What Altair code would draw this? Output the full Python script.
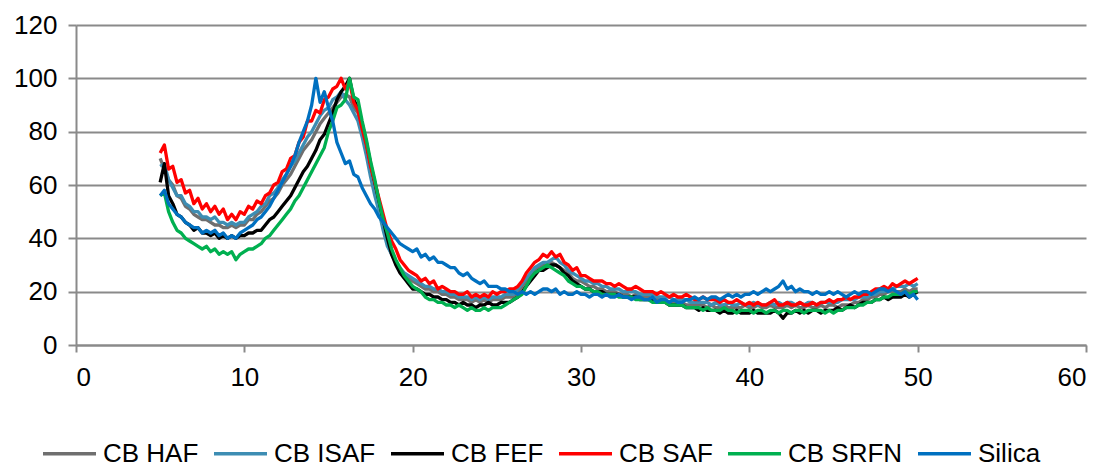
import altair as alt
import pandas as pd

# x grid of the readings (2-theta, step 0.25 from 5 to 50)
X = [5 + 0.25 * i for i in range(181)]

NAMES = ["CB HAF", "CB ISAF", "CB FEF", "CB SAF", "CB SRFN", "Silica"]
COLORS = ["#6f6f6f", "#3d8db3", "#000000", "#ff0000", "#00b050", "#0070c0"]

HAF = [
    70, 66, 62, 60, 56, 55, 52, 51, 49, 48, 47, 47, 46, 45, 45, 44,
    44, 45, 44, 45, 45, 47, 47, 49, 50, 52, 54, 55, 57, 60, 62, 64,
    67, 70, 73, 75, 77, 80, 83, 85, 87, 89, 91, 93, 94, 93, 89, 87,
    80, 73, 65, 58, 51, 44, 38, 34, 31, 28, 26, 25, 24, 23, 22, 21,
    21, 20, 20, 19, 19, 18, 18, 17, 17, 17, 16, 17, 16, 17, 16, 17,
    17, 17, 18, 18, 18, 20, 22, 24, 26, 28, 29, 30, 30, 31, 30, 29,
    28, 27, 25, 24, 24, 23, 22, 22, 21, 21, 20, 20, 20, 19, 19, 19,
    18, 19, 18, 18, 18, 17, 17, 17, 17, 16, 16, 16, 16, 15, 15, 15,
    15, 15, 14, 15, 14, 14, 15, 14, 14, 14, 14, 15, 14, 14, 15, 14,
    14, 15, 14, 14, 14, 15, 14, 15, 14, 14, 15, 14, 14, 15, 14, 15,
    15, 14, 15, 15, 15, 16, 16, 17, 17, 18, 18, 19, 19, 20, 20, 20,
    20, 21, 20, 21, 21,
]

ISAF = [
    67, 68, 62, 59, 56, 56, 53, 52, 50, 50, 48, 48, 47, 48, 46, 46,
    45, 46, 45, 46, 46, 48, 49, 50, 52, 53, 56, 57, 59, 62, 64, 67,
    69, 72, 75, 78, 80, 83, 86, 88, 89, 92, 93, 95, 92, 90, 87, 84,
    78, 71, 63, 56, 50, 43, 37, 34, 31, 29, 27, 26, 25, 24, 23, 22,
    22, 21, 21, 20, 20, 19, 19, 18, 18, 18, 17, 18, 17, 18, 17, 18,
    18, 18, 19, 19, 19, 21, 23, 25, 27, 29, 30, 31, 31, 32, 33, 31,
    30, 28, 27, 26, 25, 24, 24, 23, 23, 22, 22, 21, 21, 21, 20, 20,
    20, 20, 19, 19, 19, 19, 18, 18, 18, 18, 17, 17, 17, 17, 16, 16,
    16, 16, 16, 15, 16, 15, 15, 16, 15, 15, 16, 15, 15, 16, 15, 15,
    15, 16, 15, 16, 15, 16, 16, 15, 16, 15, 16, 16, 15, 16, 16, 16,
    16, 16, 17, 17, 17, 17, 18, 18, 18, 19, 19, 20, 20, 21, 21, 22,
    22, 22, 23, 22, 23,
]

FEF = [
    61, 68, 56, 53, 49, 48, 46, 45, 43, 44, 42, 42, 41, 42, 40, 41,
    40, 41, 40, 41, 41, 42, 42, 43, 43, 45, 47, 48, 50, 52, 54, 56,
    59, 62, 65, 67, 70, 73, 77, 79, 83, 87, 92, 95, 97, 100, 92, 89,
    83, 76, 68, 61, 54, 47, 40, 34, 30, 27, 25, 23, 21, 21, 20, 19,
    19, 18, 18, 17, 17, 16, 16, 15, 16, 15, 15, 14, 15, 15, 16, 15,
    15, 16, 16, 16, 17, 18, 20, 22, 24, 26, 28, 28, 29, 30, 30, 29,
    27, 26, 24, 23, 22, 21, 21, 20, 20, 20, 19, 19, 19, 19, 18, 18,
    18, 18, 17, 17, 17, 17, 16, 16, 16, 15, 15, 15, 15, 14, 14, 14,
    13, 14, 13, 13, 13, 12, 13, 12, 12, 13, 12, 12, 12, 13, 12, 12,
    12, 12, 13, 12, 10, 12, 12, 13, 12, 13, 12, 13, 13, 12, 13, 13,
    13, 14, 13, 14, 15, 14, 15, 16, 16, 16, 17, 17, 18, 17, 18, 18,
    18, 19, 18, 19, 20,
]

SAF = [
    72, 75, 66, 67, 61, 62, 57, 58, 53, 55, 51, 53, 50, 52, 49, 51,
    47, 49, 47, 50, 49, 52, 51, 54, 53, 56, 57, 60, 61, 65, 66, 70,
    71, 76, 78, 84, 84, 88, 87, 92, 93, 96, 97, 100, 96, 99, 91, 88,
    81, 75, 67, 61, 55, 49, 43, 39, 36, 32, 30, 28, 27, 26, 24, 25,
    23, 24, 21, 22, 21, 20, 20, 19, 19, 20, 18, 19, 18, 19, 18, 20,
    19, 20, 20, 21, 21, 22, 24, 27, 29, 31, 32, 34, 33, 35, 33, 34,
    31, 30, 28, 29, 26, 26, 25, 24, 24, 24, 23, 23, 22, 23, 22, 21,
    21, 22, 21, 20, 20, 20, 19, 20, 19, 18, 19, 18, 18, 19, 18, 17,
    17, 18, 17, 17, 17, 16, 17, 16, 16, 17, 16, 15, 16, 15, 16, 15,
    15, 16, 17, 15, 15, 16, 15, 15, 16, 15, 15, 16, 15, 16, 16, 17,
    16, 17, 17, 18, 17, 18, 18, 19, 19, 20, 21, 21, 22, 21, 23, 22,
    23, 24, 23, 24, 25,
]

SRFN = [
    56, 57, 50, 46, 43, 42, 40, 39, 38, 37, 36, 37, 35, 36, 34, 35,
    34, 35, 32, 34, 35, 36, 36, 37, 38, 40, 41, 43, 45, 47, 49, 51,
    54, 56, 59, 62, 65, 68, 71, 74, 80, 84, 89, 90, 92, 100, 93, 92,
    84, 77, 69, 62, 54, 47, 42, 36, 32, 29, 26, 24, 22, 21, 20, 18,
    17, 17, 16, 16, 15, 15, 14, 15, 14, 13, 14, 13, 13, 14, 13, 14,
    14, 14, 15, 16, 17, 18, 19, 22, 25, 27, 28, 29, 30, 29, 28, 27,
    26, 24, 23, 22, 22, 21, 21, 20, 20, 19, 19, 19, 19, 18, 18, 18,
    18, 17, 17, 17, 17, 16, 16, 16, 16, 15, 15, 15, 15, 14, 14, 14,
    14, 13, 14, 13, 13, 13, 14, 13, 13, 12, 13, 13, 13, 12, 13, 13,
    12, 13, 13, 12, 13, 13, 12, 13, 13, 12, 13, 13, 13, 13, 12, 13,
    12, 13, 13, 14, 14, 14, 15, 15, 16, 16, 17, 17, 18, 18, 19, 19,
    19, 20, 19, 20, 20,
]

SILICA = [
    56, 58, 53, 51, 49, 48, 46, 45, 44, 44, 42, 43, 42, 43, 41, 42,
    40, 41, 40, 42, 43, 44, 45, 47, 48, 50, 52, 55, 58, 61, 64, 67,
    71, 76, 80, 84, 90, 100, 91, 95, 89, 84, 76, 72, 68, 69, 64, 63,
    59, 56, 53, 51, 48, 46, 44, 42, 40, 38, 37, 36, 35, 36, 33, 34,
    32, 33, 31, 31, 30, 29, 29, 27, 26, 27, 25, 24, 23, 24, 22, 22,
    22, 21, 21, 20, 20, 19, 20, 19, 20, 19, 20, 21, 21, 20, 21, 19,
    20, 19, 19, 20, 19, 19, 18, 19, 19, 18, 19, 18, 18, 19, 18, 18,
    17, 18, 18, 17, 17, 18, 16, 17, 17, 16, 17, 16, 16, 17, 17, 18,
    17, 18, 17, 18, 18, 17, 18, 19, 18, 19, 18, 19, 19, 20, 19, 20,
    21, 20, 21, 22, 24, 21, 22, 20, 21, 20, 20, 19, 20, 19, 19, 20,
    19, 20, 19, 18, 19, 20, 19, 20, 20, 19, 20, 21, 21, 20, 21, 20,
    19, 20, 18, 19, 17,
]

SERIES = [HAF, ISAF, FEF, SAF, SRFN, SILICA]

rows = []
for name, vals in zip(NAMES, SERIES):
    for xv, yv in zip(X, vals):
        rows.append({"x": xv, "y": yv, "series": name})
df = pd.DataFrame(rows)

GRID = "#8a8a8a"
FONT = "Liberation Sans"

chart = alt.Chart(df).mark_line(strokeWidth=3.3, strokeJoin="round").encode(
    x=alt.X(
        "x:Q",
        scale=alt.Scale(domain=[0, 60], nice=False, zero=False),
        axis=alt.Axis(
            values=[0, 10, 20, 30, 40, 50, 60],
            title=None,
            grid=False,
            domain=True,
            domainColor=GRID,
            domainWidth=2,
            ticks=True,
            tickColor=GRID,
            tickWidth=2,
            tickSize=7,
            labelFont=FONT,
            labelFontSize=26,
            labelColor="#000000",
            labelPadding=12,
        ),
    ),
    y=alt.Y(
        "y:Q",
        scale=alt.Scale(domain=[0, 120], nice=False),
        axis=alt.Axis(
            values=[0, 20, 40, 60, 80, 100, 120],
            title=None,
            grid=True,
            gridColor=GRID,
            gridWidth=2,
            domain=True,
            domainColor=GRID,
            domainWidth=2,
            ticks=True,
            tickColor=GRID,
            tickWidth=2,
            tickSize=8,
            labelFont=FONT,
            labelFontSize=26,
            labelColor="#000000",
            labelPadding=11,
        ),
    ),
    color=alt.Color(
        "series:N",
        sort=NAMES,
        scale=alt.Scale(domain=NAMES, range=COLORS),
        legend=alt.Legend(
            title=None,
            orient="none",
            direction="horizontal",
            legendX=-35,
            legendY=400,
            symbolType="stroke",
            symbolSize=2809,
            symbolStrokeWidth=3.5,
            labelFont=FONT,
            labelFontSize=26,
            labelColor="#000000",
            labelOffset=5,
            columnPadding=8,
            padding=0,
        ),
    ),
).properties(
    width=1010,
    height=320,
    autosize=alt.AutoSizeParams(type="none"),
    padding={"left": 76, "top": 25, "right": 17, "bottom": 123},
    background="white",
).configure_view(strokeWidth=0)

chart.save("out.html", embed_options={"renderer": "svg", "actions": False})
